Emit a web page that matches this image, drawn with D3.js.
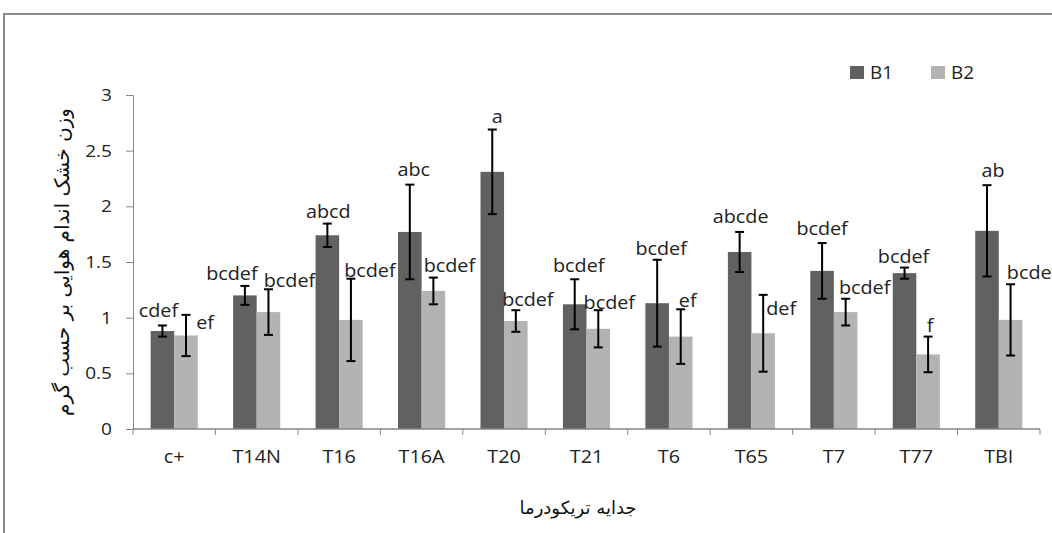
<!DOCTYPE html>
<html>
<head>
<meta charset="utf-8">
<script src="https://cdn.jsdelivr.net/npm/d3@7"></script>
<style>
  body { margin: 0; background: #fff; }
  svg { display: block; }
</style>
</head>
<body>
<svg></svg>
<script>
const width = 1052
const height = 533

// data
const categories = ["c+", "T14N", "T16", "T16A", "T20", "T21", "T6", "T65", "T7", "T77", "TBI"]
const seriesNames = ["B1", "B2"]
const b1 = [0.88, 1.20, 1.74, 1.77, 2.31, 1.12, 1.13, 1.59, 1.42, 1.40, 1.78]
const b1Err = [0.05, 0.085, 0.105, 0.425, 0.38, 0.225, 0.39, 0.18, 0.25, 0.05, 0.41]
const b2 = [0.84, 1.05, 0.98, 1.24, 0.97, 0.90, 0.83, 0.86, 1.05, 0.67, 0.98]
const b2Err = [0.185, 0.205, 0.37, 0.12, 0.097, 0.167, 0.245, 0.345, 0.12, 0.16, 0.32]
const b1Letters = ["cdef", "bcdef", "abcd", "abc", "a", "bcdef", "bcdef", "abcde", "bcdef", "bcdef", "ab"]
const b2Letters = ["ef", "bcdef", "bcdef", "bcdef", "bcdef", "bcdef", "ef", "def", "bcdef", "f", "bcdef"]
const yTicks = [0, 0.5, 1, 1.5, 2, 2.5, 3]
const yTitle = "وزن خشک اندام هوایی بر حسب گرم"
const xTitle = "جدایه تریکودرما"

// label nudges (px) relative to bar centre / error bar top, as the labels were dragged in the original
const labelDx = [[-4, -13, 1, 4, 5, 4, 4, 1, 0, -1, 6], [19, 21, 19, 16, 12, 11, 7, 18, 19, 2, 22]]
const labelDy = [[-8, -6, -6, -9, -7, -7, -5, -9, -8, -5, -8], [14, -2, -2, -6, -4, -1, -2, 20, -5, -5, -5]]

const colors = {B1: "#616161", B2: "#b3b3b3"}
const axisColor = "#868686"
const font = "'Open Sans', sans-serif"

const margin = {left: 133, right: 12, top: 95, bottom: 104}

const svg = d3.select('svg')
  .attr('width', width)
  .attr('height', height)

// outer frame of the chart object (runs off the right and bottom)
svg.append("rect")
  .attr("x", 4).attr("y", 14)
  .attr("width", width + 20).attr("height", height + 20)
  .attr("fill", "none")
  .attr("stroke", "#8a8a8a")
  .attr("stroke-width", 2)

const x = d3.scaleBand()
  .domain(categories)
  .range([margin.left, width - margin.right])

const x1 = d3.scaleBand()
  .domain(seriesNames)
  .range([0, x.bandwidth()])
  .paddingOuter(0.75)

const y = d3.scaleLinear()
  .domain([0, 3])
  .range([height - margin.bottom, margin.top])

const rows = categories.map((c, i) => ({
  cat: c,
  bars: [
    {s: "B1", v: b1[i], e: b1Err[i], t: b1Letters[i], dx: labelDx[0][i], dy: labelDy[0][i]},
    {s: "B2", v: b2[i], e: b2Err[i], t: b2Letters[i], dx: labelDx[1][i], dy: labelDy[1][i]}
  ]
}))

// y axis
const yAxis = svg.append("g")
  .attr("transform", `translate(${margin.left},0)`)
  .call(d3.axisLeft(y).tickValues(yTicks).tickSize(7).tickFormat(d3.format("")))
yAxis.select(".domain").attr("stroke", axisColor)
yAxis.selectAll(".tick line").attr("stroke", axisColor)
yAxis.selectAll(".tick text")
  .attr("x", null)
  .attr("transform", "translate(-21,0) scale(1.12,1)")
  .attr("fill", "#222")
  .style("font-family", font)
  .style("font-size", "17px")

// groups of bars
const groups = svg.append("g")
  .selectAll("g")
  .data(rows)
  .enter()
  .append("g")
  .attr("transform", d => `translate(${x(d.cat)},0)`)

groups.selectAll("rect")
  .data(d => d.bars)
  .enter()
  .append("rect")
  .attr("x", d => x1(d.s))
  .attr("y", d => y(d.v))
  .attr("width", x1.bandwidth())
  .attr("height", d => y(0) - y(d.v))
  .attr("fill", d => colors[d.s])

// x axis line and ticks at the category boundaries
const bounds = categories.map(c => x(c)).concat([x.range()[1]])
svg.append("line")
  .attr("x1", x.range()[0]).attr("x2", x.range()[1])
  .attr("y1", y(0)).attr("y2", y(0))
  .attr("stroke", axisColor)
  .attr("stroke-width", 1.5)
svg.append("g")
  .selectAll("line")
  .data(bounds)
  .enter()
  .append("line")
  .attr("x1", d => d).attr("x2", d => d)
  .attr("y1", y(0)).attr("y2", y(0) + 6)
  .attr("stroke", axisColor)

const xAxis = svg.append("g")
  .attr("transform", `translate(0,${y(0)})`)
  .call(d3.axisBottom(x).tickSize(0))
xAxis.select(".domain").remove()
xAxis.selectAll(".tick text")
  .attr("y", null)
  .attr("dy", null)
  .attr("transform", "translate(0,34) scale(1.1,1)")
  .attr("fill", "#222")
  .style("font-family", font)
  .style("font-size", "18px")

// error bars
const err = groups.selectAll("g.err")
  .data(d => d.bars)
  .enter()
  .append("g")
  .attr("class", "err")
  .attr("stroke", "#000")
  .attr("stroke-width", 2)

err.append("line")
  .attr("x1", d => x1(d.s) + x1.bandwidth() / 2)
  .attr("x2", d => x1(d.s) + x1.bandwidth() / 2)
  .attr("y1", d => y(d.v + d.e))
  .attr("y2", d => y(d.v - d.e))
err.append("line")
  .attr("x1", d => x1(d.s) + x1.bandwidth() / 2 - 4.5)
  .attr("x2", d => x1(d.s) + x1.bandwidth() / 2 + 4.5)
  .attr("y1", d => y(d.v + d.e))
  .attr("y2", d => y(d.v + d.e))
err.append("line")
  .attr("x1", d => x1(d.s) + x1.bandwidth() / 2 - 4.5)
  .attr("x2", d => x1(d.s) + x1.bandwidth() / 2 + 4.5)
  .attr("y1", d => y(d.v - d.e))
  .attr("y2", d => y(d.v - d.e))

// letters of the mean comparison
groups.selectAll("text.lab")
  .data(d => d.bars)
  .enter()
  .append("text")
  .attr("class", "lab")
  .attr("transform", d => `translate(${x1(d.s) + x1.bandwidth() / 2 + d.dx},${y(d.v + d.e) + d.dy}) scale(1.13,1)`)
  .attr("text-anchor", "middle")
  .attr("fill", "#222")
  .style("font-family", font)
  .style("font-size", "17.5px")
  .text(d => d.t)

// legend
const legend = svg.append("g")
  .selectAll("g")
  .data(seriesNames)
  .enter()
  .append("g")
  .attr("transform", (d, i) => `translate(${850 + i * 81},66)`)
legend.append("rect")
  .attr("width", 14).attr("height", 13)
  .attr("fill", d => colors[d])
legend.append("text")
  .attr("transform", "translate(20,12.5) scale(1.05,1)")
  .attr("fill", "#222")
  .style("font-family", font)
  .style("font-size", "18px")
  .text(d => d)

// axis titles
svg.append("text")
  .attr("transform", `translate(69,${(y(0) + y(3)) / 2}) rotate(-90)`)
  .attr("text-anchor", "middle")
  .attr("direction", "rtl")
  .attr("fill", "#111")
  .style("font-family", "'DejaVu Sans', sans-serif")
  .style("font-size", "20px")
  .text(yTitle)

svg.append("text")
  .attr("x", 578)
  .attr("y", 514)
  .attr("text-anchor", "middle")
  .attr("direction", "rtl")
  .attr("fill", "#111")
  .style("font-family", "'DejaVu Sans', sans-serif")
  .style("font-size", "18px")
  .text(xTitle)
</script>
</body>
</html>
